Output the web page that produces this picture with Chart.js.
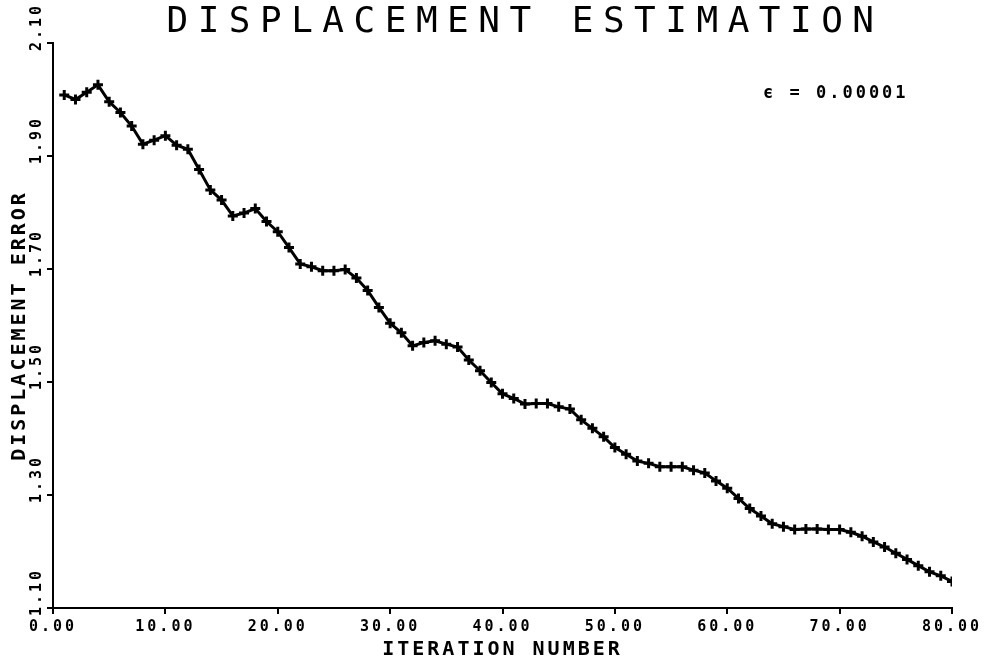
<!DOCTYPE html>
<html>
<head>
<meta charset="utf-8">
<script src="https://cdn.jsdelivr.net/npm/chart.js@4.4.0/dist/chart.umd.min.js"></script>
<style>
  html, body { margin: 0; padding: 0; background: #fff; }
  #wrap { width: 1007px; height: 662px; position: relative; }
</style>
</head>
<body>
<div id="wrap"><canvas id="chartDesplazamiento"></canvas></div>
<script>
// Datos (error vs. iteración)
const iteraciones = [
    1, 2, 3, 4, 5, 6, 7, 8, 9, 10,
    11, 12, 13, 14, 15, 16, 17, 18, 19, 20,
    21, 22, 23, 24, 25, 26, 27, 28, 29, 30,
    31, 32, 33, 34, 35, 36, 37, 38, 39, 40,
    41, 42, 43, 44, 45, 46, 47, 48, 49, 50,
    51, 52, 53, 54, 55, 56, 57, 58, 59, 60,
    61, 62, 63, 64, 65, 66, 67, 68, 69, 70,
    71, 72, 73, 74, 75, 76, 77, 78, 79, 80
];
const errorDesplazamiento = [
    2.008, 2.000, 2.013, 2.026, 1.996, 1.977, 1.953, 1.921, 1.928, 1.936,
    1.919, 1.912, 1.876, 1.840, 1.822, 1.794, 1.799, 1.807, 1.784, 1.766,
    1.738, 1.709, 1.704, 1.697, 1.697, 1.699, 1.684, 1.662, 1.632, 1.604,
    1.587, 1.564, 1.570, 1.573, 1.567, 1.562, 1.539, 1.520, 1.499, 1.479,
    1.471, 1.461, 1.462, 1.462, 1.456, 1.452, 1.433, 1.418, 1.403, 1.384,
    1.372, 1.360, 1.356, 1.350, 1.350, 1.350, 1.344, 1.339, 1.325, 1.312,
    1.294, 1.276, 1.263, 1.249, 1.244, 1.239, 1.240, 1.240, 1.239, 1.239,
    1.234, 1.227, 1.217, 1.208, 1.197, 1.186, 1.175, 1.164, 1.157, 1.147
];
const ticksX = [0, 10, 20, 30, 40, 50, 60, 70, 80];
const ticksY = [1.10, 1.30, 1.50, 1.70, 1.90, 2.10];

const tituloGrafico = 'DISPLACEMENT ESTIMATION';
const tituloX = 'ITERATION NUMBER';
const tituloY = 'DISPLACEMENT ERROR';
const anotacion = 'ϵ = 0.00001';

// Espaciado entre letras (estilo plotter) + título y anotación
const textoPlotter = {
    id: 'textoPlotter',
    beforeUpdate(chart) { chart.ctx.letterSpacing = '3px'; },
    beforeDraw(chart) { chart.ctx.letterSpacing = '3px'; },
    afterDraw(chart) {
        const ctx = chart.ctx;
        ctx.save();
        ctx.fillStyle = '#000';
        ctx.textBaseline = 'middle';
        ctx.textAlign = 'center';
        ctx.letterSpacing = '9.5px';
        ctx.font = '36px "DejaVu Sans Mono"';
        ctx.fillText(tituloGrafico, 525, 23);
        ctx.letterSpacing = '3px';
        ctx.textAlign = 'left';
        ctx.font = 'bold 17px "DejaVu Sans Mono"';
        ctx.fillText(anotacion, 763, 94);
        ctx.restore();
    }
};

const ctxDesp = document.getElementById('chartDesplazamiento').getContext('2d');

new Chart(ctxDesp, {
    type: 'line',
    data: {
        labels: iteraciones,
        datasets: [{
            data: iteraciones.map((it, i) => ({ x: it, y: errorDesplazamiento[i] })),
            borderColor: '#000',
            backgroundColor: '#000',
            borderWidth: 3,
            tension: 0,
            pointStyle: 'cross',
            pointRadius: 5,
            pointBorderWidth: 3,
            pointBorderColor: '#000'
        }]
    },
    options: {
        responsive: true,
        maintainAspectRatio: false,
        animation: false,
        layout: { padding: { left: 0, right: 55, top: 43, bottom: 0 } },
        plugins: {
            legend: { display: false },
            tooltip: { enabled: false },
            title: { display: false }
        },
        scales: {
            x: {
                type: 'linear',
                min: 0,
                max: 80,
                afterBuildTicks: s => { s.ticks = ticksX.map(v => ({ value: v })); },
                afterFit: s => { s.height = 54; },
                grid: { drawOnChartArea: false, drawTicks: true, tickLength: 6, color: '#000', lineWidth: 2 },
                border: { display: true, color: '#000', width: 2 },
                ticks: {
                    autoSkip: false,
                    maxRotation: 0,
                    padding: 4,
                    color: '#000',
                    font: { family: '"DejaVu Sans Mono"', size: 15, weight: 'bold' },
                    callback: v => Number(v).toFixed(2)
                },
                title: {
                    display: true,
                    text: tituloX,
                    color: '#000',
                    padding: { top: 0, bottom: 0 },
                    font: { family: '"DejaVu Sans Mono"', size: 20, weight: 'bold' }
                }
            },
            y: {
                type: 'linear',
                min: 1.10,
                max: 2.10,
                afterBuildTicks: s => { s.ticks = ticksY.map(v => ({ value: v })); },
                afterFit: s => { s.width = 53; },
                grid: { drawOnChartArea: false, drawTicks: true, tickLength: 6, color: '#000', lineWidth: 2 },
                border: { display: true, color: '#000', width: 2 },
                ticks: {
                    autoSkip: false,
                    minRotation: 90,
                    maxRotation: 90,
                    padding: 10,
                    labelOffset: -40,
                    color: '#000',
                    font: { family: '"DejaVu Sans Mono"', size: 15, weight: 'bold' },
                    callback: v => Number(v).toFixed(2)
                },
                title: {
                    display: true,
                    text: tituloY,
                    color: '#000',
                    padding: { top: 8, bottom: 0 },
                    font: { family: '"DejaVu Sans Mono"', size: 20, weight: 'bold' }
                }
            }
        }
    },
    plugins: [textoPlotter]
});
</script>
</body>
</html>
